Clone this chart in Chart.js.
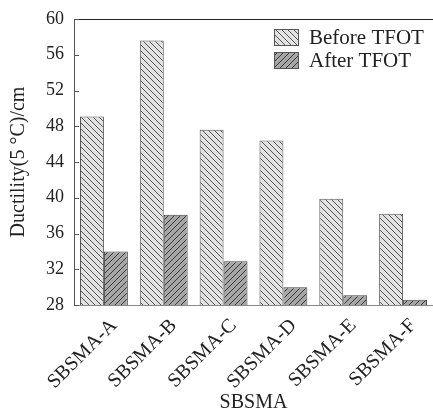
<!DOCTYPE html>
<html><head><meta charset="utf-8">
<script src="https://cdn.jsdelivr.net/npm/chart.js@4/dist/chart.umd.min.js"></script>
<style>html,body{margin:0;padding:0;background:#fff}canvas{display:block}</style>
</head><body>
<canvas id="c" width="433" height="415"></canvas>
<script>
const categories = ['SBSMA-A', 'SBSMA-B', 'SBSMA-C', 'SBSMA-D', 'SBSMA-E', 'SBSMA-F'];
const beforeValues = [49.1, 57.6, 47.6, 46.4, 39.9, 38.2];
const afterValues = [34.0, 38.1, 32.9, 30.0, 29.1, 28.6];
const seriesLabels = ['Before TFOT', 'After TFOT'];
const yTicks = [28, 32, 36, 40, 44, 48, 52, 56, 60];
const xTitle = 'SBSMA';
const yTitle = 'Ductility(5 °C)/cm';

const FONT = '"Liberation Serif", "Times New Roman", serif';

function hatch(bg, fg, dir) {
  const s = 6;
  const c = document.createElement('canvas');
  c.width = s; c.height = s;
  const x = c.getContext('2d');
  x.fillStyle = bg; x.fillRect(0, 0, s, s);
  x.strokeStyle = fg; x.lineWidth = 1;
  x.beginPath();
  if (dir === 'back') {
    x.moveTo(-1, -1); x.lineTo(s + 1, s + 1);
    x.moveTo(-1, s - 1); x.lineTo(1, s + 1);
    x.moveTo(s - 1, -1); x.lineTo(s + 1, 1);
  } else {
    x.moveTo(-1, s + 1); x.lineTo(s + 1, -1);
    x.moveTo(-1, 1); x.lineTo(1, -1);
    x.moveTo(s - 1, s + 1); x.lineTo(s + 1, s - 1);
  }
  x.stroke();
  return x.createPattern(c, 'repeat');
}

const beforeFill = hatch('#e2e2e2', '#555555', 'back');
const afterFill = hatch('#a6a6a6', '#3a3a3a', 'fwd');

const framePlugin = {
  id: 'frame',
  afterDraw(chart) {
    const ctx = chart.ctx;
    const a = chart.chartArea;
    const y = chart.scales.y;
    ctx.save();
    ctx.strokeStyle = '#222';
    ctx.lineWidth = 1;
    ctx.beginPath();
    ctx.moveTo(a.left, a.top + 0.5);
    ctx.lineTo(chart.width, a.top + 0.5);
    ctx.stroke();
    ctx.strokeStyle = '#555';
    ctx.beginPath();
    yTicks.forEach(v => {
      const py = Math.round(y.getPixelForValue(v)) + 0.5;
      ctx.moveTo(a.left, py);
      ctx.lineTo(a.left + 5, py);
    });
    ctx.stroke();
    chart.data.datasets.forEach((ds, i) => {
      const bx = a.left + 200, by = a.top + 10 + i * 23;
      ctx.fillStyle = ds.backgroundColor;
      ctx.fillRect(bx, by, 24, 16);
      ctx.strokeStyle = '#555';
      ctx.strokeRect(bx + 0.5, by + 0.5, 24, 16);
      ctx.fillStyle = '#222';
      ctx.font = '21px ' + FONT;
      ctx.textBaseline = 'middle';
      ctx.textAlign = 'left';
      ctx.fillText(ds.label, bx + 35, by + 9);
    });
    ctx.restore();
  }
};

new Chart(document.getElementById('c'), {
  type: 'bar',
  data: {
    labels: categories,
    datasets: [
      { label: seriesLabels[0], data: beforeValues, backgroundColor: beforeFill, borderColor: '#555', borderWidth: 1 },
      { label: seriesLabels[1], data: afterValues, backgroundColor: afterFill, borderColor: '#444', borderWidth: 1 }
    ]
  },
  options: {
    responsive: false,
    animation: false,
    devicePixelRatio: 1,
    categoryPercentage: 0.8,
    barPercentage: 1.0,
    layout: { padding: { top: 18, right: 0, left: 0, bottom: 0 } },
    plugins: { legend: { display: false }, tooltip: { enabled: false } },
    scales: {
      x: {
        grid: { display: false, drawTicks: false },
        border: { display: true, color: '#888', width: 1 },
        ticks: {
          color: '#222', font: { family: FONT, size: 20 },
          minRotation: 45, maxRotation: 45, padding: 9, labelOffset: 10
        },
        title: { display: true, text: xTitle, color: '#222', font: { family: FONT, size: 20 }, padding: { top: 0, bottom: 0 } },
        afterFit(scale) { scale.height = 110; }
      },
      y: {
        min: 28, max: 60,
        afterBuildTicks(scale) { scale.ticks = yTicks.map(v => ({ value: v })); },
        grid: { display: false, drawTicks: false },
        border: { display: true, color: '#555', width: 1 },
        ticks: { color: '#222', font: { family: FONT, size: 18, lineHeight: 1.0 }, padding: 10 },
        title: { display: true, text: yTitle, color: '#222', font: { family: FONT, size: 20 }, padding: { top: 7, bottom: 0 } },
        afterFit(scale) { scale.width = 74; }
      }
    }
  },
  plugins: [framePlugin]
});
</script>
</body></html>
